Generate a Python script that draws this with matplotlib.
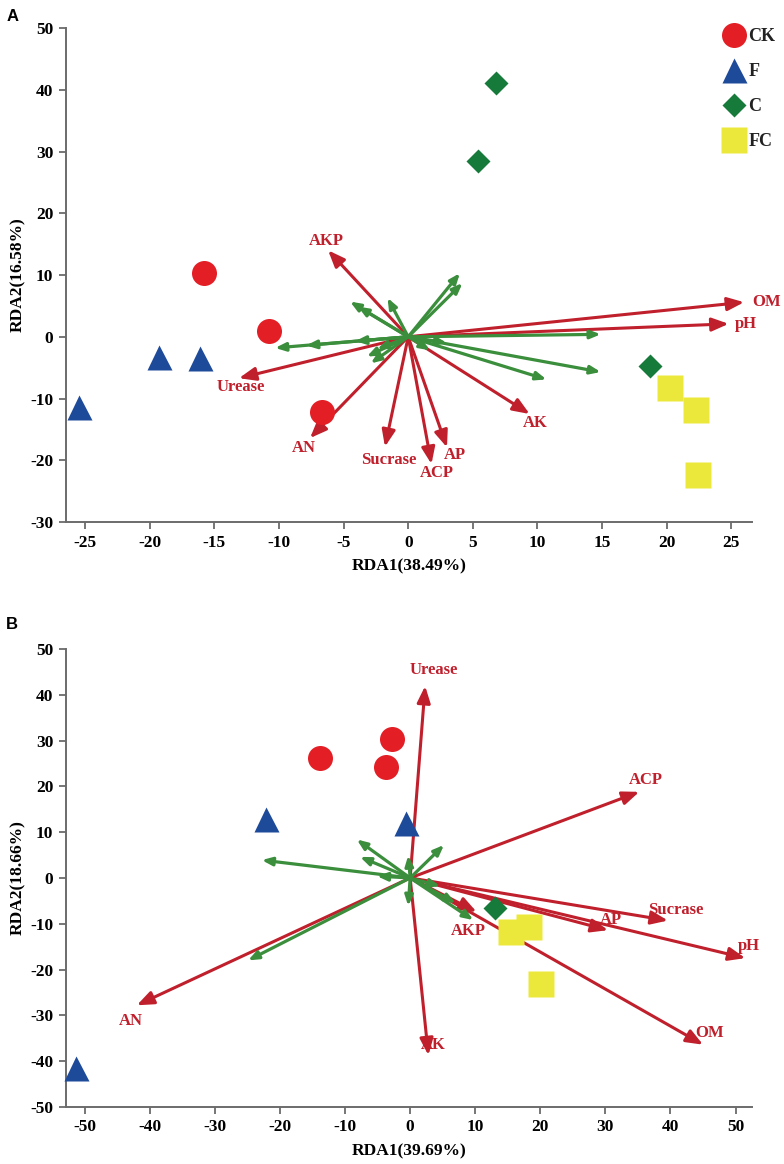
import matplotlib
matplotlib.use("Agg")
import matplotlib.pyplot as plt
from matplotlib.patches import FancyArrowPatch
from matplotlib.lines import Line2D

plt.rcParams['font.family'] = ['Liberation Serif', 'DejaVu Serif']
plt.rcParams['font.weight'] = 'bold'
plt.rcParams['axes.unicode_minus'] = False

RED = '#C01F2C'
GREEN = '#3A8E3C'
COLORS = {'CK': '#E31E25', 'F': '#1E4A9A', 'C': '#167A3B', 'FC': '#ECE83B'}
MARKERS = {'CK': ('o', 18), 'F': ('^', 18), 'C': ('D', 12.5), 'FC': ('s', 18.5)}
groups = ['CK', 'F', 'C', 'FC']

# ---------- panel A data ----------
a_pts = {
    'CK': ([-15.8, -10.8, -6.7], [10.4, 0.9, -12.2]),
    'F': ([-19.3, -16.1, -25.5], [-3.3, -3.5, -11.4]),
    'C': ([6.8, 5.4, 18.7], [41.1, 28.4, -4.7]),
    'FC': ([20.3, 22.3, 22.4], [-8.3, -11.8, -22.4]),
}
a_env = ['OM', 'pH', 'AK', 'AP', 'ACP', 'Sucrase', 'AN', 'Urease', 'AKP']
a_env_x = [26.0, 24.8, 9.4, 3.0, 1.8, -1.8, -7.6, -13.1, -6.2]
a_env_y = [5.6, 2.1, -12.5, -17.9, -20.6, -17.8, -16.4, -6.7, 14.0]
# label offsets (points) from arrow tip, and alignment
a_lab_dx = [6, 4.5, 4, 6, 4, 2.6, -4.2, 1.2, -1]
a_lab_dy = [0, 0, -6.6, -5.5, -6.6, -9.5, -7.3, -6.5, 7]
a_lab_ha = ['left', 'left', 'center', 'center', 'center', 'center', 'center', 'center', 'center']
a_sp_x = [-10.3, -7.9, -4.1, -4.5, -3.9, -1.6, 4.0, 4.2, 14.9, 14.9, 10.7, -2.9, -3.2, -2.4, 1.7, 3.0]
a_sp_y = [-1.8, -1.4, -0.7, 5.7, 4.9, 6.3, 10.3, 8.7, 0.4, -5.7, -6.9, -4.3, -3.2, -2.0, -2.2, -1.0]

# ---------- panel B data ----------
b_pts = {
    'CK': ([-13.9, -2.8, -3.7], [26.2, 30.3, 24.3]),
    'F': ([-22.1, -0.6, -51.3], [12.8, 11.9, -41.4]),
    'C': ([13.0], [-6.6]),
    'FC': ([15.5, 18.2, 20.1], [-11.7, -10.8, -23.2]),
}
b_env = ['Urease', 'ACP', 'Sucrase', 'AP', 'pH', 'OM', 'AK', 'AN', 'AKP']
b_env_x = [2.3, 35.2, 39.6, 30.4, 51.5, 45.0, 2.8, -42.0, 10.2]
b_env_y = [41.9, 18.8, -9.3, -11.4, -17.5, -36.4, -38.7, -27.8, -7.4]
b_lab_dx = [6, 4.7, 5.6, 1.9, 2.4, 4.7, 3.7, -4.2, -5.8]
b_lab_dy = [11.2, 8.2, 7.6, 7.6, 8.6, 8.6, 7.6, -11.2, -14]
b_sp_x = [-22.8, -24.9, -8.2, -7.7, 5.2, -0.3, -0.3, 9.7, 4.6, -5.1, 7.0]
b_sp_y = [3.9, -18.0, 8.4, 4.6, 7.2, 4.9, -6.1, -9.2, -1.8, 0.4, -5.5]


def style_axes(ax, xlim, ylim, xticks, yticks, xlabel, ylabel):
    ax.set_xlim(*xlim)
    ax.set_ylim(*ylim)
    ax.set_xticks(xticks)
    ax.set_yticks(yticks)
    for s in ['top', 'right']:
        ax.spines[s].set_visible(False)
    for s in ['left', 'bottom']:
        ax.spines[s].set_color('#6b6b6b')
        ax.spines[s].set_linewidth(1.4)
    ax.tick_params(direction='out', length=5, width=1.3, color='#6b6b6b',
                   labelsize=12.5, pad=4)
    ax.set_xlabel(xlabel, fontsize=12.5, fontweight='bold', labelpad=6)
    ax.set_ylabel(ylabel, fontsize=12.5, fontweight='bold', labelpad=3)


def arrow(ax, x, y, color, big):
    if big:
        st = '-|>,head_length=1.0,head_width=0.4'
        lw = 2.2
    else:
        st = '-|>,head_length=0.6,head_width=0.24'
        lw = 2.3
    ax.add_patch(FancyArrowPatch((0, 0), (x, y), arrowstyle=st, mutation_scale=10,
                                 color=color, lw=lw, shrinkA=0, shrinkB=0,
                                 zorder=2 if big else 3))


def draw_panel(ax, pts, env, ex, ey, ldx, ldy, lha, spx, spy):
    for n, x, y, dx, dy, ha in zip(env, ex, ey, ldx, ldy, lha):
        arrow(ax, x, y, RED, True)
        ax.annotate(n, (x, y), xytext=(dx, dy), textcoords='offset points',
                    ha=ha, va='center', color=RED, fontsize=12, fontweight='bold',
                    zorder=5, annotation_clip=False)
    for x, y in zip(spx, spy):
        arrow(ax, x, y, GREEN, False)
    for g in groups:
        if g in pts:
            m, ms = MARKERS[g]
            ax.plot(pts[g][0], pts[g][1], ls='none', marker=m, ms=ms,
                    color=COLORS[g], mec='none', zorder=4, clip_on=False)


fig = plt.figure(figsize=(7.84, 11.64), dpi=100)
axA = fig.add_axes([0.084, 0.5515, 0.875, 0.4244])
axB = fig.add_axes([0.084, 0.049, 0.875, 0.3935])

draw_panel(axA, a_pts, a_env, a_env_x, a_env_y, a_lab_dx, a_lab_dy, a_lab_ha,
           a_sp_x, a_sp_y)
style_axes(axA, (-26.5, 26.6), (-30, 50), range(-25, 26, 5), range(-30, 51, 10),
           'RDA1(38.49%)', 'RDA2(16.58%)')

draw_panel(axB, b_pts, b_env, b_env_x, b_env_y, b_lab_dx, b_lab_dy,
           ['center'] * len(b_env), b_sp_x, b_sp_y)
style_axes(axB, (-52.9, 52.5), (-50, 50), range(-50, 51, 10), range(-50, 51, 10),
           'RDA1(39.69%)', 'RDA2(18.66%)')

handles = [Line2D([], [], ls='none', marker=MARKERS[g][0], ms=MARKERS[g][1],
                  color=COLORS[g], mec='none') for g in groups]
leg = axA.legend(handles, groups, loc='upper left', bbox_to_anchor=(0.961, 1.0),
                 frameon=False, borderpad=0, borderaxespad=0, handlelength=1.0,
                 handletextpad=0.3, labelspacing=1.0, fontsize=13)
for t in leg.get_texts():
    t.set_color('#222222')
    t.set_fontweight('bold')

fig.text(0.008, 0.992, 'A', fontsize=12, fontweight='bold', family='Liberation Sans',
         va='top')
fig.text(0.008, 0.470, 'B', fontsize=12, fontweight='bold', family='Liberation Sans',
         va='top')

fig.savefig('out.png', dpi=100)
